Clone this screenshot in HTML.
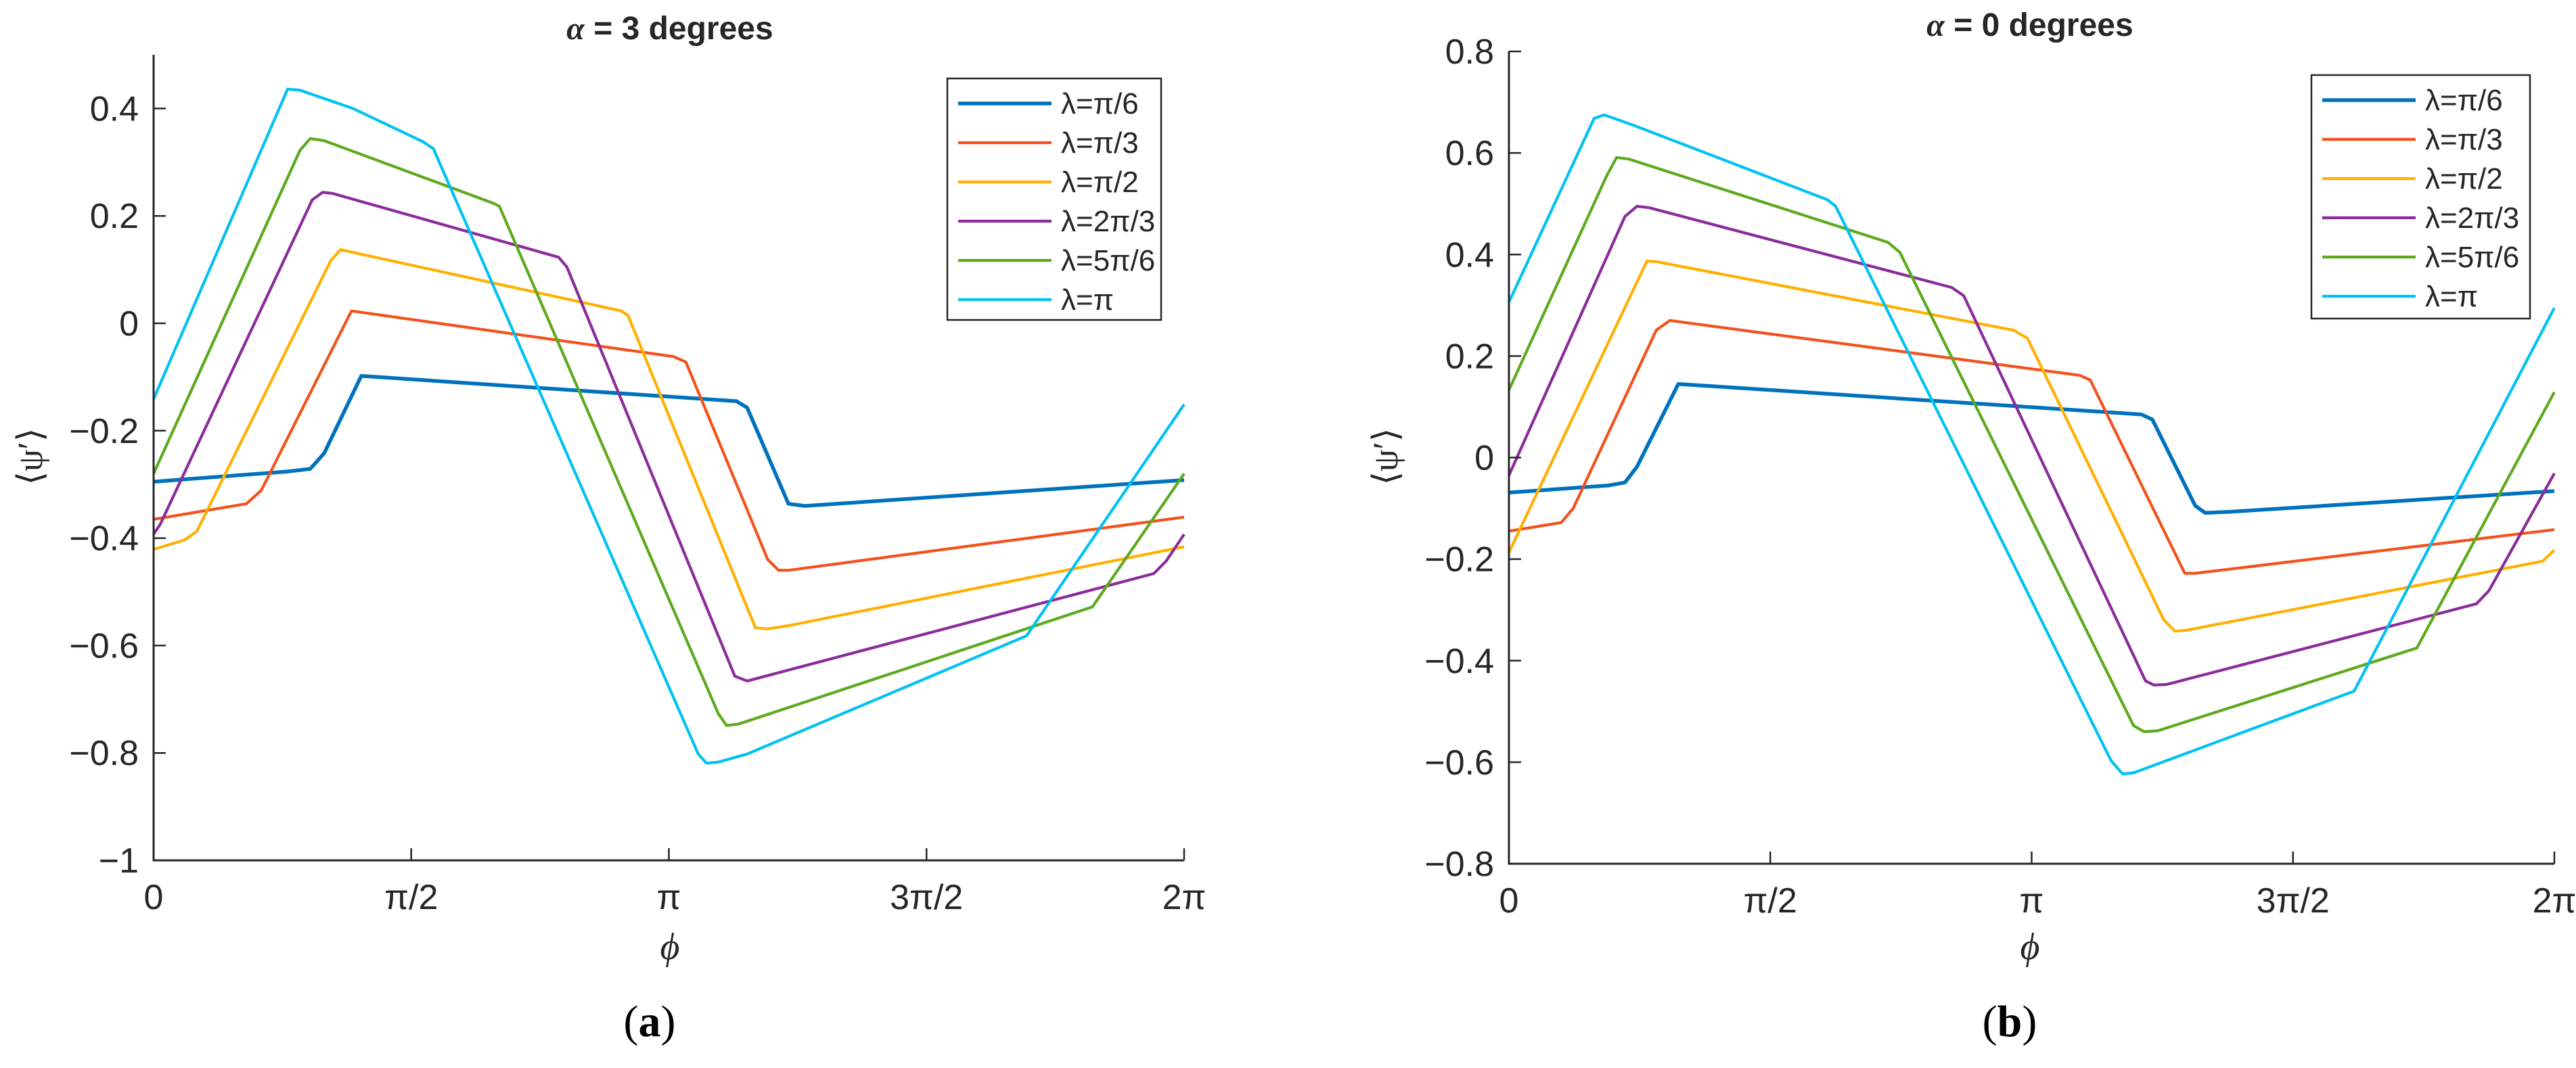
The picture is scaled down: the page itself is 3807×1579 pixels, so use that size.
<!DOCTYPE html>
<html><head><meta charset="utf-8">
<style>
html,body{margin:0;padding:0;background:#fff;}
svg{display:block;}
text{font-family:"Liberation Sans",sans-serif;fill:#262626;}
.serif{font-family:"Liberation Serif",serif;}
</style></head>
<body>
<svg id="fig" width="3807" height="1579" viewBox="0 0 3807 1579" xmlns="http://www.w3.org/2000/svg"></svg>
<script>
// ---------- data (x in units of pi, y = <psi'>) ----------
const seriesLabels = ["λ=π/6","λ=π/3","λ=π/2","λ=2π/3","λ=5π/6","λ=π"];
const seriesColors = ["#0072BD","#F4521C","#FFB000","#8A2C9A","#5DAA1F","#00C2F2"];
const xTickLabels = ["0","π/2","π","3π/2","2π"];
const xTickValues = [0,0.5,1,1.5,2];

// panel (a) alpha = 3 degrees
const aX1=[0,0.26,0.304,0.331,0.403,1.131,1.152,1.232,1.264,2];
const aY1=[-0.295,-0.276,-0.271,-0.242,-0.098,-0.145,-0.157,-0.336,-0.340,-0.292];
const aX2=[0,0.18,0.209,0.384,1.009,1.033,1.192,1.213,1.232,2];
const aY2=[-0.365,-0.336,-0.311,0.023,-0.062,-0.072,-0.44,-0.46,-0.46,-0.361];
const aX3=[0,0.061,0.084,0.344,0.363,0.908,0.921,1.168,1.192,1.232,2];
const aY3=[-0.421,-0.403,-0.387,0.117,0.137,0.023,0.014,-0.567,-0.569,-0.563,-0.416];
const aX4=[0,0.013,0.308,0.328,0.347,0.786,0.802,1.128,1.152,1.941,1.965,2];
const aY4=[-0.393,-0.374,0.230,0.244,0.242,0.123,0.105,-0.657,-0.666,-0.466,-0.443,-0.393];
const aX5=[0,0.284,0.304,0.331,0.658,0.671,1.096,1.112,1.136,1.822,2];
const aY5=[-0.28,0.322,0.344,0.340,0.224,0.218,-0.727,-0.749,-0.746,-0.528,-0.28];
const aX6=[0,0.26,0.284,0.387,0.523,0.543,1.057,1.073,1.096,1.152,1.694,2];
const aY6=[-0.141,0.436,0.434,0.40,0.338,0.325,-0.802,-0.819,-0.817,-0.802,-0.582,-0.151];
const aYTicks=[-1,-0.8,-0.6,-0.4,-0.2,0,0.2,0.4];
const aYTickLabels=["−1","−0.8","−0.6","−0.4","−0.2","0","0.2","0.4"];

// panel (b) alpha = 0 degrees
const bX1=[0,0.19,0.222,0.245,0.324,1.21,1.231,1.313,1.332,1.377,2];
const bY1=[-0.069,-0.055,-0.049,-0.018,0.145,0.085,0.075,-0.095,-0.109,-0.107,-0.066];
const bX2=[0,0.1,0.123,0.282,0.308,1.092,1.112,1.293,1.313,2];
const bY2=[-0.145,-0.128,-0.1,0.251,0.27,0.162,0.153,-0.228,-0.228,-0.142];
const bX3=[0,0.264,0.282,0.965,0.992,1.253,1.274,1.297,1.978,2];
const bY3=[-0.187,0.387,0.386,0.251,0.235,-0.32,-0.342,-0.34,-0.204,-0.182];
const bX4=[0,0.222,0.245,0.269,0.847,0.87,1.218,1.234,1.258,1.851,1.875,2];
const bY4=[-0.035,0.475,0.495,0.492,0.335,0.319,-0.44,-0.448,-0.447,-0.288,-0.262,-0.031];
const bX5=[0,0.187,0.206,0.229,0.725,0.748,1.195,1.215,1.242,1.737,2];
const bY5=[0.133,0.555,0.591,0.588,0.424,0.404,-0.528,-0.54,-0.538,-0.375,0.129];
const bX6=[0,0.163,0.182,0.237,0.609,0.625,1.152,1.174,1.195,1.617,2];
const bY6=[0.306,0.668,0.675,0.655,0.508,0.495,-0.597,-0.623,-0.621,-0.46,0.295];
const bYTicks=[-0.8,-0.6,-0.4,-0.2,0,0.2,0.4,0.6,0.8];
const bYTickLabels=["−0.8","−0.6","−0.4","−0.2","0","0.2","0.4","0.6","0.8"];

const NS="http://www.w3.org/2000/svg";
const svg=document.getElementById('fig');
function mk(tag,attrs,parent){const e=document.createElementNS(NS,tag);for(const k in attrs)e.setAttribute(k,attrs[k]);(parent||svg).appendChild(e);return e;}

function panel(cfg){
  const g=mk('g',{});
  
  
  const sx=v=>cfg.x0+(v-0)/2*(cfg.x1-cfg.x0);
  const sy=v=>cfg.yTop+(cfg.yMax-v)/(cfg.yMax-cfg.yMin)*(cfg.yBot-cfg.yTop);
  for(let s=0;s<6;s++){
    const xs=cfg.xs[s], ys=cfg.ys[s];
    let d='';
    for(let i=0;i<xs.length;i++) d+=(i?'L':'M')+sx(xs[i]).toFixed(1)+' '+sy(ys[i]).toFixed(1);
    const p=mk('path',{d:d,fill:'none',stroke:seriesColors[s],'stroke-width':s===0?5.5:4.2,'stroke-linejoin':'round'},g);
    
    
  }
  const ax=mk('path',{d:`M${cfg.x0} ${cfg.yTop}V${cfg.yBot}H${cfg.x1}`,fill:'none',stroke:'#262626','stroke-width':3},g);
  
  
  for(let i=0;i<cfg.yTicks.length;i++){
    const y=sy(cfg.yTicks[i]);
    const t=mk('line',{x1:cfg.x0,x2:cfg.x0+18,y1:y,y2:y,stroke:'#262626','stroke-width':2.5},g);
    
    
    const l=mk('text',{x:cfg.x0-22,y:y+18,'text-anchor':'end','font-size':52},g);
    l.textContent=cfg.yTickLabels[i];
    
    
  }
  for(let i=0;i<xTickValues.length;i++){
    const x=sx(xTickValues[i]);
    const t=mk('line',{x1:x,x2:x,y1:cfg.yBot,y2:cfg.yBot-18,stroke:'#262626','stroke-width':2.5},g);
    
    
    const l=mk('text',{x:x,y:cfg.yBot+72,'text-anchor':'middle','font-size':52},g);
    l.textContent=xTickLabels[i];
    
    
  }
  const lb=mk('rect',{x:cfg.lgX,y:cfg.lgY,width:cfg.lgW,height:cfg.lgH,fill:'#fff',stroke:'#262626','stroke-width':2.5},g);
  
  
  for(let s=0;s<6;s++){
    const y=cfg.lgY+37+s*58;
    const ln=mk('line',{x1:cfg.lgX+16,x2:cfg.lgX+154,y1:y,y2:y,stroke:seriesColors[s],'stroke-width':s===0?5.5:4.2},g);
    
    
    const tx=mk('text',{x:cfg.lgX+168,y:y+15,'font-size':44},g);
    tx.textContent=seriesLabels[s];
    
    
  }
  const ti=mk('text',{x:cfg.tX,y:cfg.tY,'text-anchor':'middle','font-size':48,'font-weight':'bold'},g);
  ti.innerHTML='<tspan class="serif" font-style="italic">α</tspan> = '+cfg.title;
  
  
  const yl=mk('text',{x:0,y:0,'text-anchor':'middle','font-size':52,transform:`translate(${cfg.ylX},${cfg.ylY}) rotate(-90)`,class:'serif',fill:'#555'},g);
  yl.textContent='⟨ψ′⟩';
  
  
  const xl=mk('text',{x:cfg.tX,y:1418,'text-anchor':'middle','font-size':56,class:'serif','font-style':'italic',fill:'#555'},g);
  xl.textContent='ϕ';
  
  
  const pl=mk('text',{x:cfg.plX,y:1532,'text-anchor':'middle','font-size':66,class:'serif',style:'fill:#000;font-family:"Liberation Serif",serif'},g);
  pl.innerHTML='(<tspan font-weight="bold">'+cfg.pl+'</tspan>)';
  
  
}

panel({name:'panel-a',x0:227,x1:1750,yTop:81,yBot:1272,yMin:-1,yMax:0.5,
  xs:[aX1,aX2,aX3,aX4,aX5,aX6],ys:[aY1,aY2,aY3,aY4,aY5,aY6],
  yTicks:aYTicks,yTickLabels:aYTickLabels,
  lgX:1400,lgY:116,lgW:316,lgH:357,tX:990,tY:58,title:'3 degrees',ylX:62,ylY:675,plX:960,pl:'a'});
panel({name:'panel-b',x0:2230,x1:3775,yTop:76,yBot:1277,yMin:-0.8,yMax:0.8,
  xs:[bX1,bX2,bX3,bX4,bX5,bX6],ys:[bY1,bY2,bY3,bY4,bY5,bY6],
  yTicks:bYTicks,yTickLabels:bYTickLabels,
  lgX:3416,lgY:111,lgW:323,lgH:360,tX:3000,tY:53,title:'0 degrees',ylX:2065,ylY:675,plX:2970,pl:'b'});
</script>
</body></html>
